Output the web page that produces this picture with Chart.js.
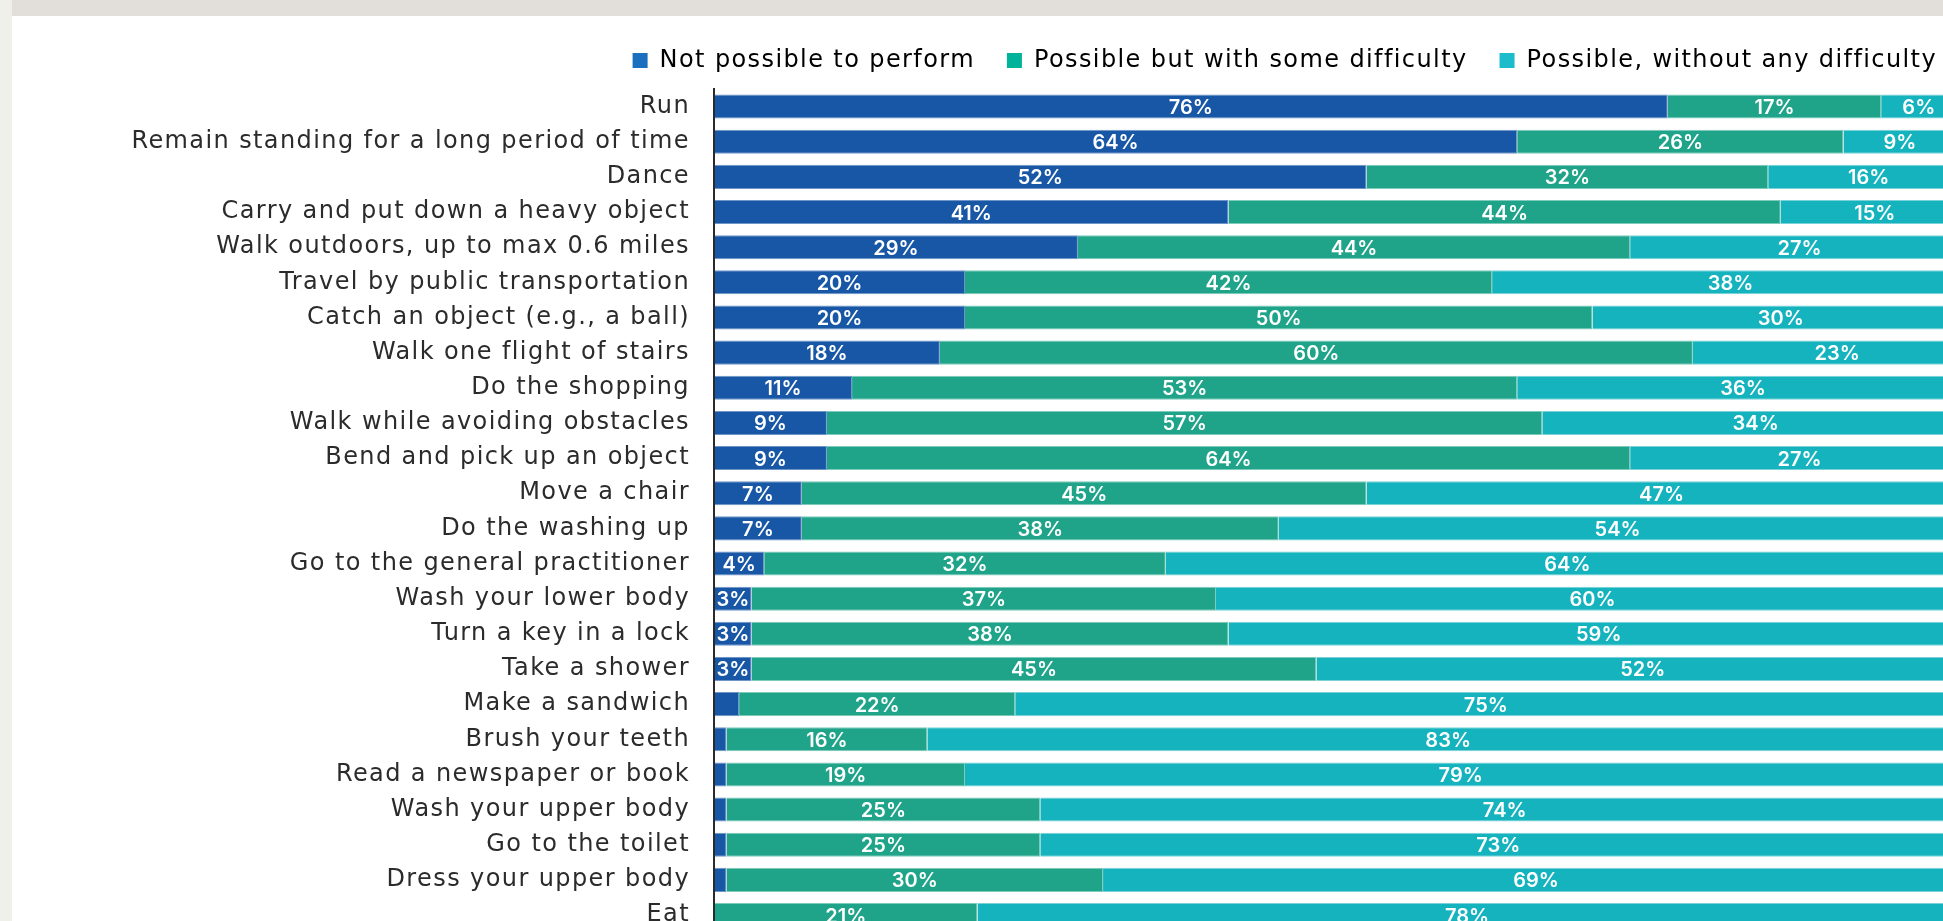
<!DOCTYPE html>
<html>
<head>
<meta charset="utf-8">
<script src="https://cdn.jsdelivr.net/npm/chart.js@4/dist/chart.umd.min.js"></script>
<style>
  html, body { margin: 0; padding: 0; overflow: hidden; background: #ffffff; width: 1943px; height: 921px; }
  #wrap { position: absolute; left: 0; top: 0; width: 1969px; height: 971px; }
  #strip { position: absolute; left: 0; top: 0; width: 12px; height: 921px; background: #F0F0EA; z-index: 2; }
  #band { position: absolute; left: 12px; top: 0; width: 1931px; height: 16px; background: #E2DFDA; z-index: 2; }
</style>
</head>
<body>
<div id="wrap"><canvas id="c" width="1969" height="971"></canvas></div>
<div id="strip"></div>
<div id="band"></div>
<script>
const categories = [
  "Run",
  "Remain standing for a long period of time",
  "Dance",
  "Carry and put down a heavy object",
  "Walk outdoors, up to max 0.6 miles",
  "Travel by public transportation",
  "Catch an object (e.g., a ball)",
  "Walk one flight of stairs",
  "Do the shopping",
  "Walk while avoiding obstacles",
  "Bend and pick up an object",
  "Move a chair",
  "Do the washing up",
  "Go to the general practitioner",
  "Wash your lower body",
  "Turn a key in a lock",
  "Take a shower",
  "Make a sandwich",
  "Brush your teeth",
  "Read a newspaper or book",
  "Wash your upper body",
  "Go to the toilet",
  "Dress your upper body",
  "Eat"
];
const seriesNames = ["Not possible to perform", "Possible but with some difficulty", "Possible, without any difficulty"];
const notPossible    = [76, 64, 52, 41, 29, 20, 20, 18, 11,  9,  9,  7,  7,  4,  3,  3,  3,  2,  1,  1,  1,  1,  1,  0];
const someDifficulty = [17, 26, 32, 44, 44, 42, 50, 60, 53, 57, 64, 45, 38, 32, 37, 38, 45, 22, 16, 19, 25, 25, 30, 21];
const noDifficulty   = [ 6,  9, 16, 15, 27, 38, 30, 23, 36, 34, 27, 47, 54, 64, 60, 59, 52, 75, 83, 79, 74, 73, 69, 78];

const barColors    = ["#1757A6", "#1FA48A", "#15B3BE"];
const edgeColors   = ["#6f95c6", "#7fcbbb", "#7ad2d8"];
const legendColors = ["#1B6FBF", "#00B39A", "#1CBCCB"];

const TEXT_SPACING = '1.4px';

const letterSpacingPlugin = {
  id: 'letterSpacing',
  beforeLayout(chart) { chart.ctx.letterSpacing = TEXT_SPACING; },
  beforeDraw(chart) { chart.ctx.letterSpacing = TEXT_SPACING; }
};

const valueLabels = {
  id: 'valueLabels',
  afterDatasetsDraw(chart) {
    const ctx = chart.ctx;
    ctx.save();
    ctx.letterSpacing = '0px';
    ctx.font = '600 20px Inter';
    ctx.fillStyle = '#ffffff';
    ctx.textAlign = 'center';
    ctx.textBaseline = 'middle';
    chart.data.datasets.forEach((ds, di) => {
      const meta = chart.getDatasetMeta(di);
      meta.data.forEach((bar, i) => {
        const v = ds.data[i];
        if (v < 3) return;
        const p = bar.getProps(['x', 'base', 'y'], true);
        ctx.fillText(v + '%', (p.x + p.base) / 2, p.y + 1.5);
      });
    });
    ctx.restore();
  }
};

new Chart(document.getElementById('c'), {
  type: 'bar',
  data: {
    labels: categories,
    datasets: [notPossible, someDifficulty, noDifficulty].map((d, i) => ({
      label: seriesNames[i],
      data: d,
      backgroundColor: barColors[i],
      borderColor: edgeColors[i],
      borderWidth: 1,
      categoryPercentage: 1,
      barPercentage: 0.685
    }))
  },
  options: {
    indexAxis: 'y',
    responsive: false,
    animation: false,
    devicePixelRatio: 1,
    layout: { padding: { top: 16.5, right: 0, bottom: 0, left: 0 } },
    plugins: {
      tooltip: { enabled: false },
      legend: {
        position: 'top',
        align: 'end',
        labels: {
          boxWidth: 15,
          boxHeight: 15,
          padding: 32,
          color: '#222222',
          font: { family: 'DejaVu Sans', size: 24 },
          generateLabels: (chart) => chart.data.datasets.map((ds, i) => ({
            text: ds.label,
            fillStyle: legendColors[i],
            strokeStyle: legendColors[i],
            lineWidth: 0,
            hidden: false,
            datasetIndex: i
          }))
        }
      }
    },
    scales: {
      x: {
        position: 'top',
        stacked: true,
        min: 0,
        max: 100,
        ticks: { display: false },
        grid: { display: false, drawTicks: false },
        border: { display: false },
        title: { display: true, text: '', font: { size: 1, lineHeight: 1 }, padding: { top: 5.5, bottom: 0 } }
      },
      y: {
        stacked: true,
        afterFit: (scale) => { scale.width = 714; },
        ticks: {
          padding: 24,
          color: '#2b2b2b',
          font: { family: 'DejaVu Sans', size: 24 }
        },
        grid: { display: false, drawTicks: false },
        border: { display: true, color: '#2a2a2a', width: 2, z: 1 }
      }
    }
  },
  plugins: [letterSpacingPlugin, valueLabels]
});
</script>
</body>
</html>
